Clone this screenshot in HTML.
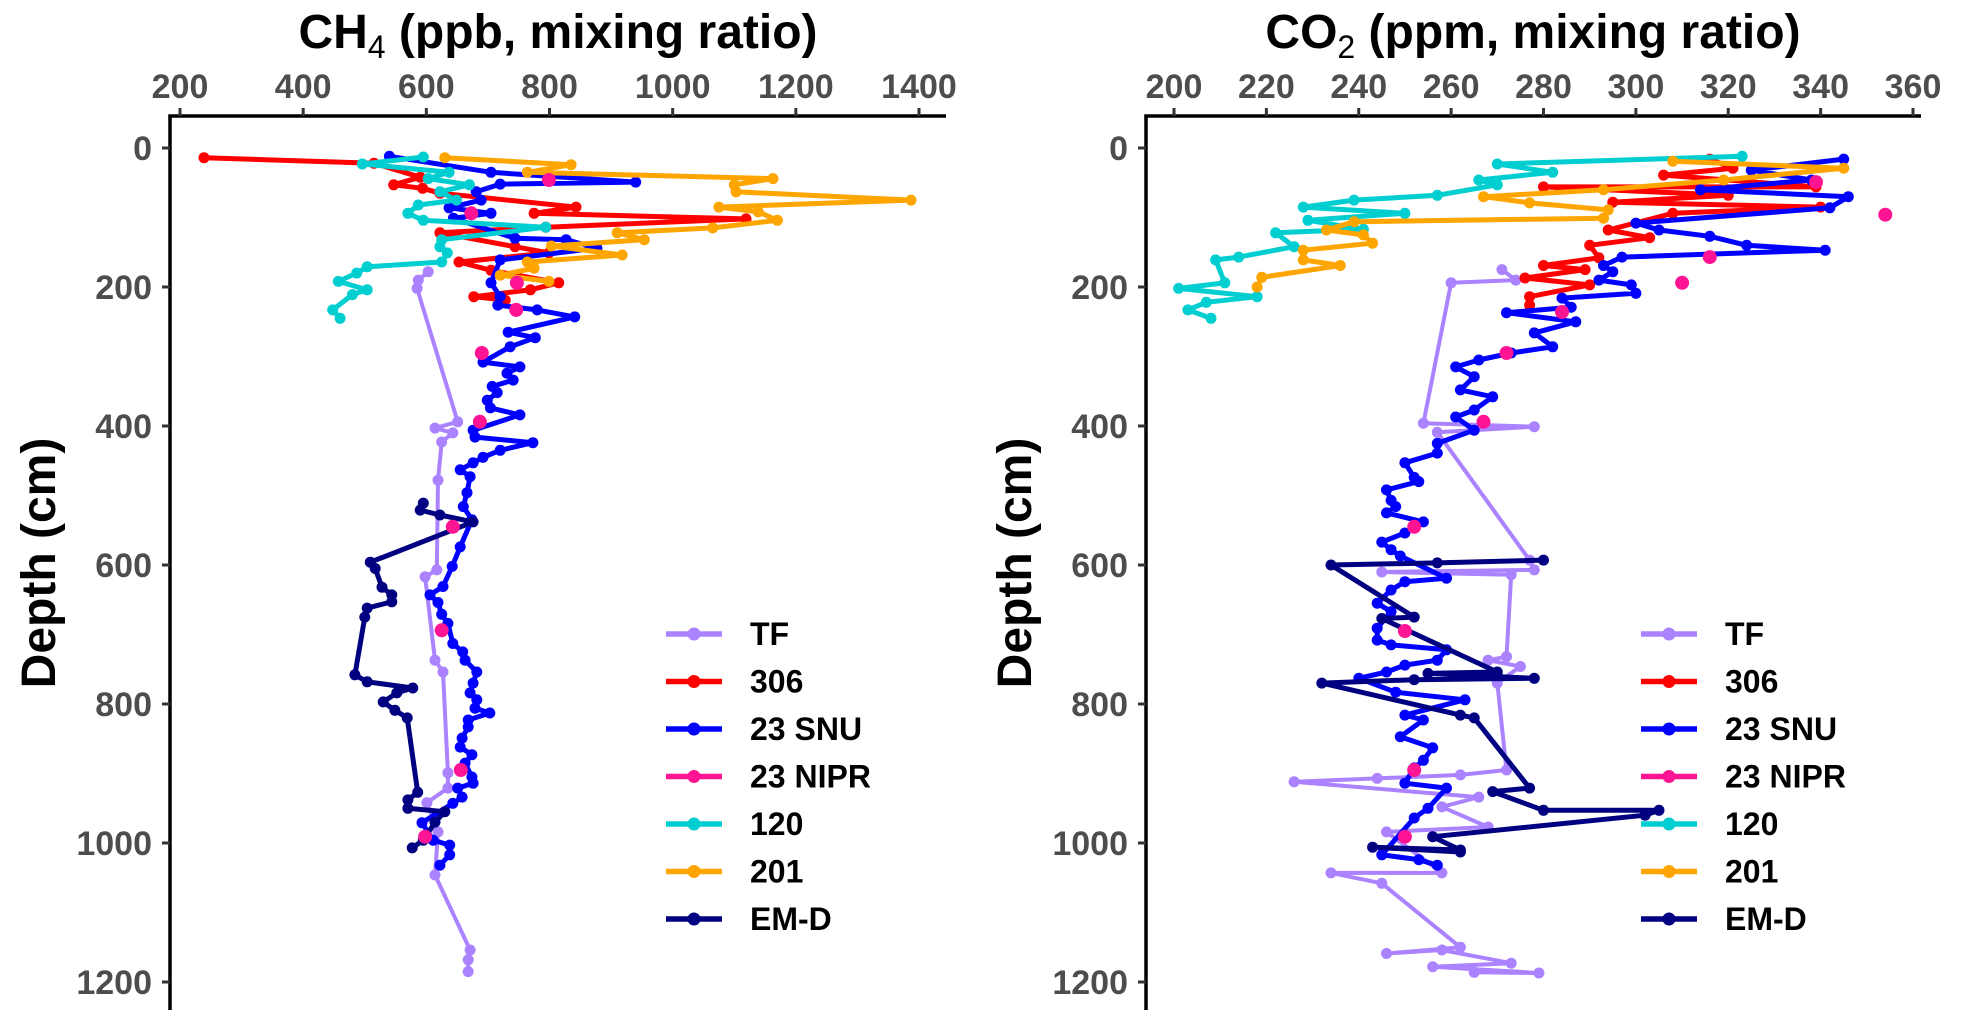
<!DOCTYPE html>
<html><head><meta charset="utf-8">
<style>
html,body{margin:0;padding:0;background:#fff;}
svg{display:block;font-family:"Liberation Sans",Arial,sans-serif;}
</style></head>
<body>
<svg id="chart" width="1961" height="1026" viewBox="0 0 1961 1026" xmlns="http://www.w3.org/2000/svg">
<rect width="1961" height="1026" fill="#fff"/>
<g id="ch4-panel"></g>
<g id="co2-panel"></g>
</svg>
<script>
// ---------- data (value, depth cm) ----------
const seriesNames = ["TF","306","23 SNU","23 NIPR","120","201","EM-D"];
const seriesColors = ["#AB82FF","#FF0000","#0000FF","#FF1493","#00CED1","#FFA500","#000080"];
const ch4Ticks = [200,400,600,800,1000,1200,1400];
const co2Ticks = [200,220,240,260,280,300,320,340,360];
const depthTicks = [0,200,400,600,800,1000,1200];

const ch4TF = [[603,178],[587,190],[585,202],[651,394],[614,403],[643,410],[625,423],[619,478],[617,607],[598,617],[614,737],[627,754],[635,899],[635,921],[601,942],[619,984],[614,1046],[671,1154],[668,1168],[668,1185]];
const ch4R306 = [[239,14],[515,22],[590,42],[547,53],[594,58],[622,65],[843,85],[775,94],[1119,102],[794,114],[622,122],[744,142],[799,151],[653,164],[705,176],[815,194],[769,204],[677,214],[728,219]];
const ch4SNU = [[540,12],[705,35],[940,49],[720,52],[681,63],[689,75],[637,86],[705,94],[644,101],[744,130],[827,132],[877,144],[720,161],[705,194],[720,214],[716,226],[780,233],[841,243],[733,265],[777,273],[736,286],[692,308],[752,315],[731,324],[741,334],[707,343],[715,352],[699,363],[704,374],[752,384],[676,406],[679,416],[773,424],[720,435],[692,445],[676,453],[655,463],[671,473],[666,496],[660,516],[674,535],[655,574],[642,602],[627,631],[606,643],[619,654],[625,671],[635,684],[643,713],[659,725],[663,737],[682,754],[676,770],[671,784],[682,794],[679,806],[703,813],[668,823],[668,833],[658,849],[655,862],[674,873],[663,885],[674,905],[676,914],[651,921],[658,934],[643,943],[593,971],[611,996],[638,1003],[638,1017],[622,1032]];
const ch4NIPR = [[799,46],[673,94],[747,194],[746,233],[690,295],[687,394],[643,545],[625,694],[656,895],[598,991]];
const ch4C120 = [[595,13],[496,23],[637,35],[603,44],[670,53],[622,63],[649,75],[587,82],[570,94],[595,104],[794,114],[625,132],[622,142],[634,151],[625,164],[504,171],[487,180],[457,192],[504,204],[480,211],[448,233],[460,245]];
const ch4O201 = [[630,14],[835,24],[764,35],[1163,44],[1100,53],[1103,63],[1387,75],[1075,85],[1139,92],[1170,104],[1065,115],[910,122],[954,132],[803,141],[918,154],[764,164],[775,173],[720,183],[799,192]];
const ch4EMD = [[595,511],[590,521],[622,528],[676,538],[509,596],[517,605],[528,632],[544,643],[544,653],[504,662],[500,675],[484,758],[504,768],[578,777],[552,784],[530,797],[549,809],[569,820],[586,927],[570,938],[570,950],[630,955],[614,970],[595,996],[577,1007]];

const co2TF = [[271,175],[274,190],[260,194],[254,396],[278,401],[257,409],[277,593],[278,607],[245,610],[273,614],[272,732],[268,737],[275,746],[270,770],[272,895],[262,902],[244,907],[226,912],[266,934],[258,948],[268,977],[246,984],[258,1043],[234,1043],[245,1058],[262,1150],[246,1159],[258,1154],[273,1173],[256,1178],[279,1187],[265,1186]];
const co2R306 = [[316,16],[321,29],[306,39],[339,56],[280,56],[320,68],[295,78],[340,85],[308,94],[294,118],[303,129],[290,140],[292,158],[280,169],[289,175],[276,187],[290,197],[277,214],[277,226]];
const co2SNU = [[345,16],[325,32],[338,46],[314,60],[346,70],[342,86],[300,108],[305,118],[316,127],[324,140],[341,147],[297,157],[293,169],[295,178],[292,190],[299,197],[300,209],[284,216],[286,229],[272,237],[287,250],[278,266],[282,286],[273,295],[266,305],[261,315],[265,329],[262,348],[269,358],[265,377],[261,387],[265,406],[257,425],[257,439],[250,453],[252,474],[253,480],[246,492],[247,507],[248,516],[246,525],[254,538],[250,554],[245,567],[247,578],[249,587],[259,619],[250,624],[247,636],[244,655],[247,667],[244,691],[244,708],[247,715],[259,722],[257,737],[250,744],[246,754],[240,763],[248,783],[263,794],[250,816],[254,823],[249,847],[256,863],[254,881],[252,892],[250,914],[259,921],[255,950],[252,964],[245,1017],[253,1024],[257,1032]];
const co2NIPR = [[339,49],[354,96],[316,157],[310,194],[284,236],[272,295],[267,394],[252,545],[250,695],[252,895],[250,991]];
const co2C120 = [[323,12],[270,23],[282,35],[266,46],[270,53],[257,68],[239,75],[228,85],[250,94],[229,104],[241,117],[222,122],[226,142],[214,157],[209,161],[211,194],[201,202],[218,214],[207,222],[203,233],[208,245]];
const co2O201 = [[308,19],[345,29],[319,46],[293,60],[267,70],[277,79],[294,89],[293,101],[239,106],[233,118],[241,125],[243,137],[228,147],[228,161],[236,169],[219,186],[218,200]];
const co2EMD = [[280,593],[257,597],[234,600],[252,675],[245,677],[270,754],[255,756],[278,763],[252,765],[232,770],[262,816],[265,820],[277,921],[269,926],[280,953],[305,953],[302,960],[256,991],[262,1010],[243,1006],[262,1013]];

// ---------- rendering ----------
const NS = "http://www.w3.org/2000/svg";
function mk(tag, attrs, parent){const e=document.createElementNS(NS,tag);for(const k in attrs)e.setAttribute(k,attrs[k]);parent.appendChild(e);return e;}
const yOf = d => 148 + d*139/200;

function drawPanel(g, cfg){
  const xOf = v => cfg.x0 + (v-cfg.vmin)*cfg.span/(cfg.vmax-cfg.vmin);
  const order = [0,1,2,4,5,6,3];
  order.forEach(i=>{
    const pts = cfg.data[i];
    const col = seriesColors[i];
    const sg = mk("g",{},g);
    
    
    if(i!==3){
      const d = pts.map((p,k)=>(k?"L":"M")+xOf(p[0]).toFixed(1)+" "+yOf(p[1]).toFixed(1)).join(" ");
      const ln = mk("path",{d:d,fill:"none",stroke:col,"stroke-width":i===0?4:5,"stroke-linejoin":"round"},sg);
      
      
    }
    pts.forEach(p=>{
      const c = mk("circle",{cx:xOf(p[0]).toFixed(1),cy:yOf(p[1]).toFixed(1),r:i===3?7:5.5,fill:col},sg);
      
      
    });
  });
  const ax = mk("g",{},g);
  
  
  mk("line",{x1:cfg.ax,y1:116,x2:cfg.ax,y2:1010,stroke:"#000","stroke-width":3.5},ax);
  mk("line",{x1:cfg.ax-1.75,y1:116,x2:cfg.axEnd,y2:116,stroke:"#000","stroke-width":3.5},ax);
  cfg.ticks.forEach(t=>{
    const x = xOf(t);
    mk("line",{x1:x,y1:108,x2:x,y2:116,stroke:"#333","stroke-width":3},ax);
    const tx = mk("text",{x:x,y:98,"text-anchor":"middle","font-size":34,"font-weight":"bold",fill:"#4d4d4d"},ax);
    tx.textContent = t;
    
    
  });
  depthTicks.forEach(t=>{
    const y = yOf(t);
    mk("line",{x1:cfg.ax-8,y1:y,x2:cfg.ax,y2:y,stroke:"#333","stroke-width":3},ax);
    const tx = mk("text",{x:cfg.ax-18,y:y+12,"text-anchor":"end","font-size":34,"font-weight":"bold",fill:"#4d4d4d"},ax);
    tx.textContent = t;
    
    
  });
  const ti = mk("text",{x:cfg.titleX,y:48,"text-anchor":"middle","font-size":48,"font-weight":"bold",fill:"#000"},g);
  
  
  const a = mk("tspan",{},ti); a.textContent = cfg.gas;
  const b = mk("tspan",{"font-size":32,dy:10,"font-weight":"normal"},ti); b.textContent = cfg.sub;
  const c2 = mk("tspan",{dy:-10},ti); c2.textContent = cfg.unit;
  const yt = mk("text",{x:0,y:0,transform:"translate("+(cfg.ax-115)+",563) rotate(-90)","text-anchor":"middle","font-size":48,"font-weight":"bold",fill:"#000"},g);
  yt.textContent = "Depth (cm)";
  
  
  const lg = mk("g",{},g);
  
  
  seriesNames.forEach((n,i)=>{
    const y = 634 + i*47.5;
    const e = mk("g",{},lg);
    
    
    mk("line",{x1:cfg.lgX,y1:y,x2:cfg.lgX+56,y2:y,stroke:seriesColors[i],"stroke-width":5.5},e);
    mk("circle",{cx:cfg.lgX+28,cy:y,r:6.5,fill:seriesColors[i]},e);
    const t = mk("text",{x:cfg.lgX+84,y:y+11,"font-size":32,"font-weight":"bold",fill:"#000"},e);
    t.textContent = n;
  });
}

drawPanel(document.getElementById("ch4-panel"),{
  x0:180, span:739, vmin:200, vmax:1400, ax:170, axEnd:946, ticks:ch4Ticks,
  data:[ch4TF,ch4R306,ch4SNU,ch4NIPR,ch4C120,ch4O201,ch4EMD],
  titleX:558, gas:"CH", sub:"4", unit:" (ppb, mixing ratio)", lgX:666
});
drawPanel(document.getElementById("co2-panel"),{
  x0:1174, span:739, vmin:200, vmax:360, ax:1146, axEnd:1921, ticks:co2Ticks,
  data:[co2TF,co2R306,co2SNU,co2NIPR,co2C120,co2O201,co2EMD],
  titleX:1533, gas:"CO", sub:"2", unit:" (ppm, mixing ratio)", lgX:1641
});
</script>
</body></html>
